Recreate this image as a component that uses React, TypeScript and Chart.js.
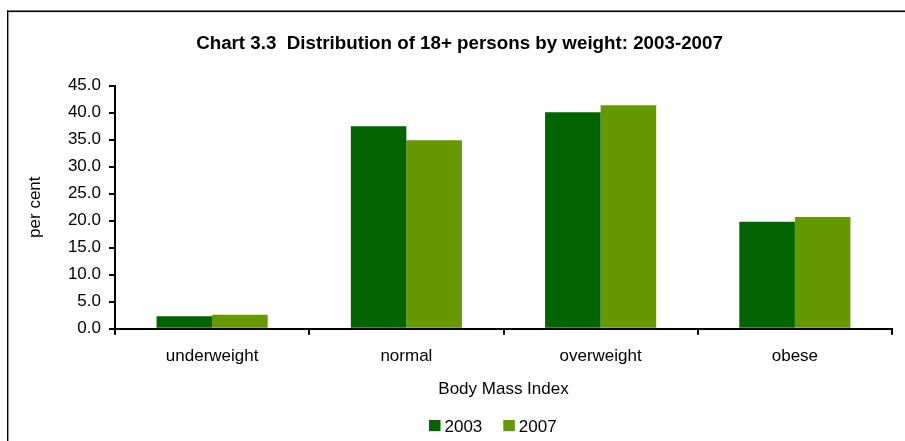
import { useEffect, useRef } from "react";
import { Chart, registerables } from "chart.js";

Chart.register(...registerables);

const categories = ["underweight", "normal", "overweight", "obese"];
const seriesLabels = ["2003", "2007"];
const values2003 = [2.3, 37.5, 40.1, 19.8];
const values2007 = [2.6, 34.9, 41.4, 20.7];
const seriesColors = ["#006400", "#669900"];
const yMin = 0;
const yMax = 45;
const yStep = 5;
const chartTitle = "Chart 3.3  Distribution of 18+ persons by weight: 2003-2007";
const xAxisTitle = "Body Mass Index";
const yAxisTitle = "per cent";

const FONT = "'Liberation Sans', Arial, Helvetica, sans-serif";

const decorPlugin = {
  id: "decor",
  afterDraw(chart: any) {
    const ctx = chart.ctx as CanvasRenderingContext2D;
    ctx.save();
    // outer frame (left + top edges visible)
    ctx.fillStyle = "#000";
    ctx.fillRect(7, 10.5, 1.4, 500);
    ctx.fillRect(7, 10.5, 1000, 1.6);
    // title
    ctx.font = `bold 18.75px ${FONT}`;
    ctx.textAlign = "center";
    ctx.textBaseline = "alphabetic";
    ctx.fillStyle = "#000";
    ctx.fillText(chartTitle, 459.5, 49);
    // legend
    ctx.font = `17px ${FONT}`;
    ctx.textAlign = "left";
    let x = 429;
    chart.data.datasets.forEach((ds: any, i: number) => {
      ctx.fillStyle = ds.backgroundColor;
      ctx.fillRect(x, 420, 11.5, 11.2);
      ctx.fillStyle = "#000";
      ctx.fillText(ds.label, x + 15.5, 431.7);
      const w = ctx.measureText(ds.label).width;
      x += 15.5 + w + 21;
    });
    ctx.restore();
  },
};

export default function App() {
  const ref = useRef<HTMLCanvasElement | null>(null);
  useEffect(() => {
    if (!ref.current) return;
    const chart = new Chart(ref.current, {
      type: "bar",
      data: {
        labels: categories,
        datasets: [
          {
            label: seriesLabels[0],
            data: values2003,
            backgroundColor: seriesColors[0],
            borderWidth: 0,
            categoryPercentage: 0.572,
            barPercentage: 1,
          },
          {
            label: seriesLabels[1],
            data: values2007,
            backgroundColor: seriesColors[1],
            borderWidth: 0,
            categoryPercentage: 0.572,
            barPercentage: 1,
          },
        ],
      },
      options: {
        animation: false,
        responsive: false,
        maintainAspectRatio: false,
        layout: { padding: { top: 85.7, right: 13, bottom: 0, left: 0 } },
        plugins: {
          legend: { display: false },
          title: { display: false },
          tooltip: { enabled: false },
        },
        scales: {
          x: {
            grid: {
              display: true,
              drawOnChartArea: false,
              drawTicks: true,
              tickLength: 6,
              color: "#000",
              lineWidth: 2,
              offset: true,
            },
            border: { display: true, color: "#000", width: 2 },
            ticks: { color: "#000", font: { family: FONT, size: 17 }, padding: 11 },
            title: {
              display: true,
              text: xAxisTitle,
              color: "#000",
              font: { family: FONT, size: 17 },
              padding: { top: 0, bottom: 41 },
            },
            afterFit: (s: any) => {
              s.height = 112.3;
            },
          },
          y: {
            min: yMin,
            max: yMax,
            ticks: {
              stepSize: yStep,
              color: "#000",
              font: { family: FONT, size: 17 },
              padding: 8,
              callback: (v: any) => Number(v).toFixed(1),
            },
            grid: {
              drawOnChartArea: false,
              drawTicks: true,
              tickLength: 6,
              color: "#000",
              lineWidth: 2,
            },
            border: { display: true, color: "#000", width: 2 },
            title: {
              display: true,
              text: yAxisTitle,
              color: "#000",
              font: { family: FONT, size: 17 },
              padding: { top: 25, bottom: 0 },
            },
            afterFit: (s: any) => {
              s.width = 115;
            },
          },
        },
      },
      plugins: [decorPlugin],
    });
    return () => chart.destroy();
  }, []);
  return (
    <canvas
      ref={ref}
      width={905}
      height={441}
      style={{ position: "fixed", left: 0, top: 0, display: "block", width: 905, height: 441 }}
    />
  );
}
